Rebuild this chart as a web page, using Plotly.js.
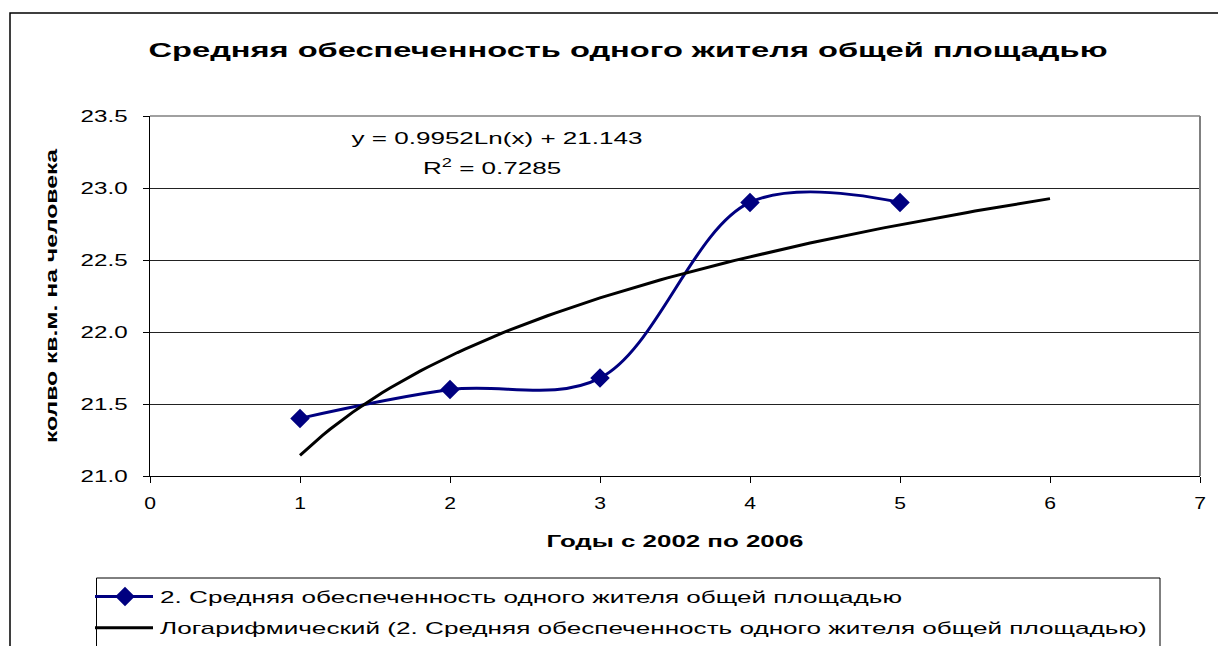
<!DOCTYPE html>
<html><head><meta charset="utf-8">
<script src="https://cdn.plot.ly/plotly-3.0.1.min.js"></script>
<style>html,body{margin:0;padding:0;background:#fff;} #chart{width:1218px;height:646px;}</style>
</head><body><div id="chart"></div>
<script>
// ---- data ----
const years = [1, 2, 3, 4, 5];
const areaPerPerson = [21.4, 21.6, 21.68, 22.9, 22.9];
const trendForecastPeriods = 1;
const seriesName = '2. Средняя обеспеченность одного жителя общей площадью';
const trendName = 'Логарифмический (2. Средняя обеспеченность одного жителя общей площадью)';
const titleText = 'Средняя обеспеченность одного жителя общей площадью';
const xTitleText = 'Годы с 2002 по 2006';
const yTitleText = 'колво кв.м. на человека';
const xTickVals = [0, 1, 2, 3, 4, 5, 6, 7];
const yTickVals = [21.0, 21.5, 22.0, 22.5, 23.0, 23.5];

// ---- logarithmic least-squares trendline (as Excel) ----
const n = years.length;
const lx = years.map(Math.log);
const mx = lx.reduce((a, b) => a + b, 0) / n;
const my = areaPerPerson.reduce((a, b) => a + b, 0) / n;
let sxx = 0, sxy = 0, syy = 0;
for (let i = 0; i < n; i++) {
  sxx += (lx[i] - mx) ** 2;
  sxy += (lx[i] - mx) * (areaPerPerson[i] - my);
  syy += (areaPerPerson[i] - my) ** 2;
}
const slope = sxy / sxx;
const intercept = my - slope * mx;
const r2 = slope * sxy / syy;
const trendX = [], trendY = [];
const xEnd = years[n - 1] + trendForecastPeriods;
for (let k = 0; k <= 100; k++) {
  const x = years[0] + k * (xEnd - years[0]) / 100;
  trendX.push(x);
  trendY.push(intercept + slope * Math.log(x));
}
const eqText = 'y = ' + slope.toFixed(4) + 'Ln(x) + ' + intercept.toFixed(3);
const r2Text = 'R<sup>2</sup> = ' + r2.toFixed(4);

const FF = '"Liberation Sans", Arial, sans-serif';
const W = 1218, H = 646;
const L = 150, R = 18, T = 116, B = 170;
const pw = W - L - R, ph = H - T - B;
const px = v => (v - L) / pw;         // pixel x -> paper
const py = v => (H - B - v) / ph;     // pixel y -> paper

const traces = [
  {
    x: years, y: areaPerPerson, type: 'scatter', mode: 'lines+markers',
    name: seriesName, legendgroup: 'a',
    line: {color: '#000080', width: 3, shape: 'spline', smoothing: 1},
    marker: {symbol: 'diamond', size: 15, color: '#000080'}
  },
  {
    x: trendX, y: trendY, type: 'scatter', mode: 'lines',
    name: trendName, legendgroup: 'b',
    line: {color: '#000000', width: 3}
  }
];

const layout = {
  width: W, height: H,
  margin: {l: L, r: R, t: T, b: B, autoexpand: false},
  paper_bgcolor: '#ffffff', plot_bgcolor: '#ffffff',
  font: {family: FF, color: '#000', size: 17},
  title: {
    text: titleText, font: {family: FF, size: 21, weight: 'bold', color: '#000'},
    xref: 'container', yref: 'container', x: 628 / W, y: 1 - 50 / H,
    xanchor: 'center', yanchor: 'middle'
  },
  xaxis: {
    range: [0, 7], tickvals: xTickVals, ticktext: xTickVals.map(String),
    ticks: 'outside', ticklen: 6, tickcolor: '#000', tickwidth: 1,
    showline: true, linecolor: '#000', linewidth: 1,
    showgrid: false, zeroline: false, ticklabelstandoff: 6,
    tickfont: {size: 17, family: FF}, automargin: false,
    title: {text: xTitleText, font: {size: 16, weight: 'bold', family: FF}, standoff: 23}
  },
  yaxis: {
    range: [21, 23.5], tickvals: yTickVals, ticktext: yTickVals.map(v => v.toFixed(1)),
    ticks: 'outside', ticklen: 6, tickcolor: '#000', tickwidth: 1,
    showline: true, linecolor: '#000', linewidth: 1,
    showgrid: true, gridcolor: '#222', gridwidth: 1, zeroline: false,
    ticklabelstandoff: 12, tickfont: {size: 17, family: FF}, automargin: false,
    title: {text: yTitleText, font: {size: 16, weight: 'bold', family: FF}, standoff: 32}
  },
  showlegend: true,
  legend: {
    x: px(120), y: py(579), xanchor: 'left', yanchor: 'top',
    borderwidth: 0, bgcolor: 'rgba(0,0,0,0)',
    font: {size: 17, family: FF}, traceorder: 'grouped', tracegroupgap: 6
  },
  annotations: [
    {xref: 'paper', yref: 'paper', x: px(497), y: py(138), text: eqText, showarrow: false,
     xanchor: 'center', yanchor: 'middle', font: {size: 17, family: FF}},
    {xref: 'paper', yref: 'paper', x: px(492), y: py(167), text: r2Text, showarrow: false,
     xanchor: 'center', yanchor: 'middle', font: {size: 17, family: FF}}
  ],
  shapes: [
    {type: 'line', xref: 'paper', yref: 'paper', x0: 0, x1: 1, y0: 1, y1: 1,
     line: {color: '#808080', width: 1.5}},
    {type: 'line', xref: 'paper', yref: 'paper', x0: 1, x1: 1, y0: 0, y1: 1,
     line: {color: '#808080', width: 2}},
    {type: 'rect', xref: 'paper', yref: 'paper', x0: px(10), x1: px(1240), y0: py(13), y1: py(680),
     line: {color: '#000', width: 1.5}, layer: 'below'},
    {type: 'rect', xref: 'paper', yref: 'paper', x0: px(96.5), x1: px(1160), y0: py(578), y1: py(700),
     line: {color: '#000', width: 1}, layer: 'below'}
  ]
};

// horizontally widen text like the reference's rendering
function widen(gd, selector, refText, target) {
  const els = Array.from(gd.querySelectorAll(selector));
  if (!els.length) return;
  let refEl = els.find(e => e.textContent === refText) || els[0];
  const nat = refEl.getComputedTextLength();
  const f = target / nat;
  els.forEach(e => {
    const w = e.getComputedTextLength();
    if (w > 0) {
      e.setAttribute('textLength', (w * f).toFixed(2));
      e.setAttribute('lengthAdjust', 'spacingAndGlyphs');
    }
  });
}

Plotly.newPlot('chart', traces, layout, {displayModeBar: false, staticPlot: true}).then(gd => {
  widen(gd, '.gtitle', titleText, 959);
  widen(gd, '.ytick text', '23.5', 47);
  widen(gd, '.xtick text', '7', 47 * 0.25);
  widen(gd, '.xtitle', xTitleText, 257);
  widen(gd, '.ytitle', yTitleText, 294);
  widen(gd, '.legendtext', seriesName, 742);
  widen(gd, '.annotation-text', eqText, 291);
  gd.querySelectorAll('.legend [clip-path], .legend[clip-path]').forEach(e => e.removeAttribute('clip-path'));
  // longer legend line samples, as in the reference legend
  gd.querySelectorAll('.legend .legendlines path').forEach(p => p.setAttribute('d', 'M-25,0h58'));
  gd.querySelectorAll('.legend .legendpoints path').forEach(p => p.setAttribute('transform', 'translate(5,0)'));
});
</script>
</body></html>
